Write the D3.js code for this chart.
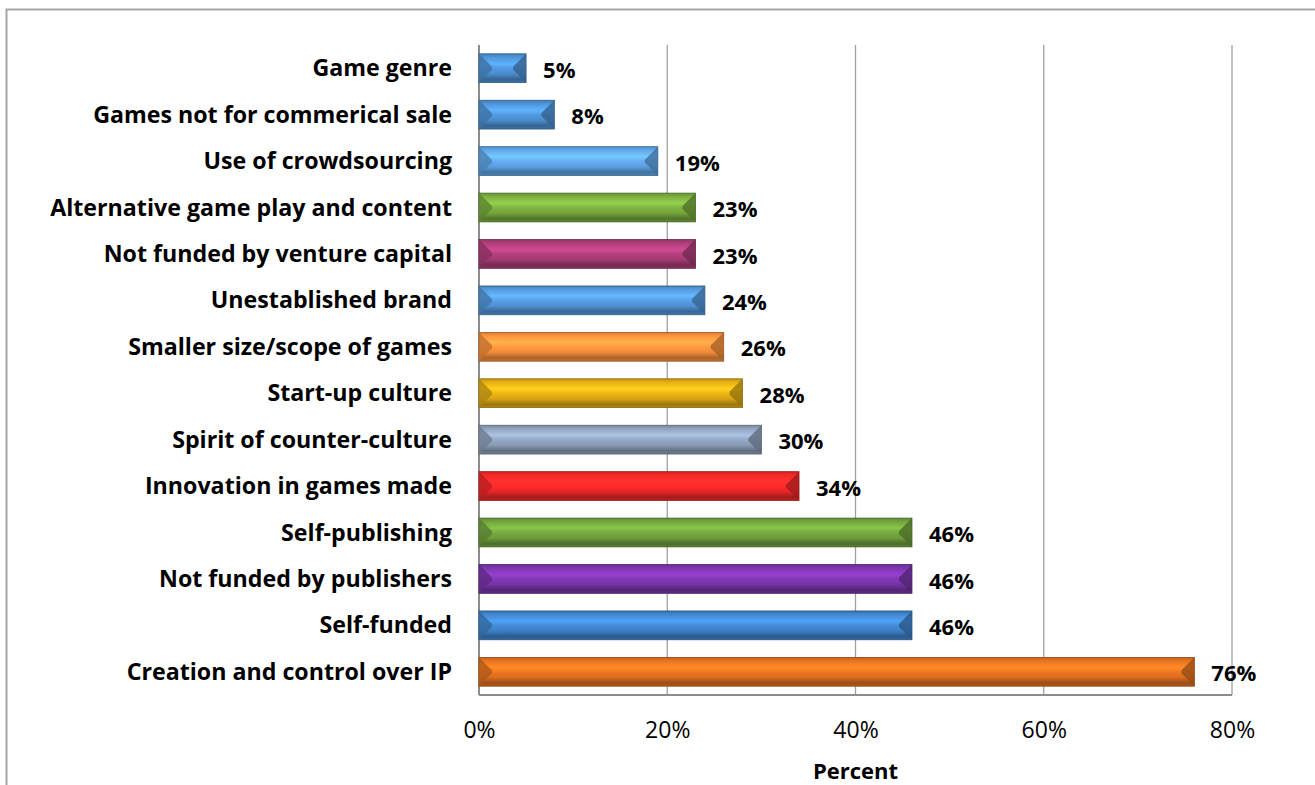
<!DOCTYPE html>
<html>
<head>
<meta charset="utf-8">
<script src="https://cdn.jsdelivr.net/npm/d3@7"></script>
<style>
  body { margin: 0; background: #fff; }
  svg { font-family: "Open Sans", Lato, sans-serif; }
</style>
</head>
<body>
<div id="chart"></div>
<script>
const categories = [
    "Game genre",
    "Games not for commerical sale",
    "Use of crowdsourcing",
    "Alternative game play and content",
    "Not funded by venture capital",
    "Unestablished brand",
    "Smaller size/scope of games",
    "Start-up culture",
    "Spirit of counter-culture",
    "Innovation in games made",
    "Self-publishing",
    "Not funded by publishers",
    "Self-funded",
    "Creation and control over IP"
];
const values = [5, 8, 19, 23, 23, 24, 26, 28, 30, 34, 46, 46, 46, 76];
const barColors = [
    "#4a8bcb", "#4a8bcb", "#5b9ddc", "#73a33c", "#a33a72", "#4f90d0", "#f08a3a",
    "#d8a414", "#8799b2", "#e52626", "#6b9a3a", "#7433a3", "#3d7ec2", "#d96c1e"
];
const xTicks = [0, 20, 40, 60, 80];

const width = 1315, height = 785;
const margin = { top: 45, right: 83, bottom: 90, left: 479 };

const svg = d3.select("#chart")
    .append("svg")
    .attr("width", width)
    .attr("height", height);

// outer frame
svg.append("rect")
    .attr("x", 6.5).attr("y", 9.5)
    .attr("width", width + 10).attr("height", height + 10)
    .attr("fill", "none").attr("stroke", "#a6a6a6").attr("stroke-width", 2);

const x = d3.scaleLinear()
    .domain([0, 80])
    .range([margin.left, width - margin.right]);

const y = d3.scaleBand()
    .domain(categories)
    .range([margin.top, height - margin.bottom])
    .paddingInner(0.38)
    .paddingOuter(0.19);

// gridlines
svg.append("g")
    .selectAll("line")
    .data(xTicks.slice(1))
    .enter()
    .append("line")
    .attr("x1", d => x(d)).attr("x2", d => x(d))
    .attr("y1", margin.top).attr("y2", height - margin.bottom)
    .attr("stroke", "#a0a0a0").attr("stroke-width", 1.3);

// plot area bottom and left
svg.append("line")
    .attr("x1", x(0)).attr("x2", x(80))
    .attr("y1", height - margin.bottom).attr("y2", height - margin.bottom)
    .attr("stroke", "#8c8c8c").attr("stroke-width", 2);
svg.append("line")
    .attr("x1", x(0)).attr("x2", x(0))
    .attr("y1", margin.top).attr("y2", height - margin.bottom)
    .attr("stroke", "#8c8c8c").attr("stroke-width", 2);

// gradients for bevelled look
const defs = svg.append("defs");
barColors.forEach((c, i) => {
    const base = d3.color(c);
    const g = defs.append("linearGradient")
        .attr("id", "grad" + i)
        .attr("x1", 0).attr("y1", 0).attr("x2", 0).attr("y2", 1);
    const stops = [
        [0, base.darker(0.3)],
        [0.12, base.brighter(0.2)],
        [0.35, base.brighter(0.7)],
        [0.5, base.brighter(0.3)],
        [0.7, base],
        [0.88, base.darker(0.9)],
        [1, base.darker(0.6)]
    ];
    stops.forEach(s => g.append("stop").attr("offset", s[0]).attr("stop-color", s[1]));
});

const bars = svg.append("g")
    .selectAll("g")
    .data(categories)
    .enter()
    .append("g");

const bh = y.bandwidth();
bars.append("rect")
    .attr("x", x(0))
    .attr("y", d => y(d))
    .attr("width", (d, i) => x(values[i]) - x(0))
    .attr("height", bh)
    .attr("fill", (d, i) => `url(#grad${i})`)
    .attr("stroke", (d, i) => d3.color(barColors[i]).darker(1.2))
    .attr("stroke-width", 0.8);

// left bevel
bars.append("path")
    .attr("d", d => {
        const x0 = x(0), y0 = y(d), b = bh * 0.45;
        return `M${x0},${y0}L${x0 + b},${y0 + b}L${x0 + b},${y0 + bh - b}L${x0},${y0 + bh}Z`;
    })
    .attr("fill", (d, i) => d3.color(barColors[i]).darker(0.6))
    .attr("opacity", 0.8);

// right bevel
bars.append("path")
    .attr("d", (d, i) => {
        const x1 = x(values[i]), y0 = y(d), b = Math.min(bh * 0.45, (x(values[i]) - x(0)) / 2);
        return `M${x1},${y0}L${x1 - b},${y0 + b}L${x1 - b},${y0 + bh - b}L${x1},${y0 + bh}Z`;
    })
    .attr("fill", (d, i) => d3.color(barColors[i]).darker(1.0))
    .attr("opacity", 0.8);

// value labels
svg.append("g")
    .selectAll("text")
    .data(categories)
    .enter()
    .append("text")
    .attr("x", (d, i) => x(values[i]) + 17)
    .attr("y", d => y(d) + bh / 2 + 2)
    .attr("dy", "0.35em")
    .attr("font-size", 22)
    .attr("font-weight", "bold")
    .attr("fill", "#000")
    .text((d, i) => values[i] + "%");

// category labels
svg.append("g")
    .selectAll("text")
    .data(categories)
    .enter()
    .append("text")
    .attr("x", x(0) - 27)
    .attr("y", d => y(d) + bh / 2)
    .attr("dy", "0.35em")
    .attr("text-anchor", "end")
    .attr("font-size", 23.2)
    .attr("font-weight", "bold")
    .attr("fill", "#000")
    .text(d => d);

// x axis
const xAxis = svg.append("g")
    .attr("transform", `translate(0,${height - margin.bottom})`)
    .call(d3.axisBottom(x).tickValues(xTicks).tickFormat(d => d + "%").tickSize(0).tickPadding(27));
xAxis.select(".domain").remove();
xAxis.selectAll("text")
    .attr("font-family", "'Open Sans', Lato, sans-serif")
    .attr("font-size", 23)
    .attr("fill", "#000");

svg.append("text")
    .attr("x", x(40))
    .attr("y", 779)
    .attr("text-anchor", "middle")
    .attr("font-size", 22)
    .attr("font-weight", "bold")
    .text("Percent");
</script>
</body>
</html>
